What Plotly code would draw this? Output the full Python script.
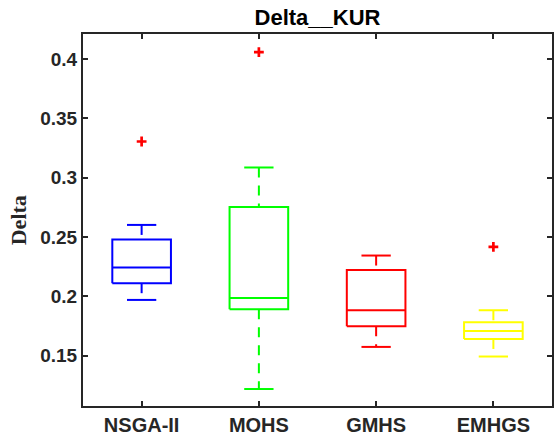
import plotly.graph_objects as go

methods = ["NSGA-II", "MOHS", "GMHS", "EMHGS"]
q1 = [0.2110, 0.1890, 0.1747, 0.1640]
med = [0.2242, 0.1986, 0.1882, 0.1708]
q3 = [0.2478, 0.2753, 0.2222, 0.1781]
lower = [0.1969, 0.1218, 0.1573, 0.1492]
upper = [0.2601, 0.3085, 0.2343, 0.1882]
outliers = [[0.3304], [0.4057], [], [0.2416]]
colors = ["#0000ff", "#00ff00", "#ff0000", "#ffff00"]

HALF = 0.25
CAP = 0.125
LW = 2

fig = go.Figure()
for i, m in enumerate(methods):
    x = i + 1
    c = colors[i]
    # box
    fig.add_trace(go.Scatter(
        x=[x - HALF, x + HALF, x + HALF, x - HALF, x - HALF],
        y=[q1[i], q1[i], q3[i], q3[i], q1[i]],
        mode="lines", line=dict(color=c, width=LW), hoverinfo="skip"))
    # median
    fig.add_trace(go.Scatter(
        x=[x - HALF, x + HALF], y=[med[i], med[i]],
        mode="lines", line=dict(color=c, width=LW), hoverinfo="skip"))
    # whiskers (dashed)
    fig.add_trace(go.Scatter(
        x=[x, x], y=[upper[i], q3[i]],
        mode="lines", line=dict(color=c, width=LW, dash="10px,8px"), hoverinfo="skip"))
    fig.add_trace(go.Scatter(
        x=[x, x], y=[q1[i], lower[i]],
        mode="lines", line=dict(color=c, width=LW, dash="10px,8px"), hoverinfo="skip"))
    # caps
    for v in (upper[i], lower[i]):
        fig.add_trace(go.Scatter(
            x=[x - CAP, x + CAP], y=[v, v],
            mode="lines", line=dict(color=c, width=LW), hoverinfo="skip"))
    # outliers
    if outliers[i]:
        fig.add_trace(go.Scatter(
            x=[x] * len(outliers[i]), y=outliers[i], mode="markers",
            marker=dict(symbol="cross-thin", size=7, color="#ff0000",
                        line=dict(color="#ff0000", width=2.7))))

axis_common = dict(
    showline=True, linecolor="#262626", linewidth=2, mirror="ticks",
    ticks="inside", ticklen=5, tickwidth=1.5, tickcolor="#262626",
    showgrid=False, zeroline=False,
)

fig.update_layout(
    width=555, height=444,
    margin=dict(l=83, r=1, t=34, b=38),
    paper_bgcolor="white", plot_bgcolor="white",
    showlegend=False,
    title=dict(text="Delta__KUR", x=0.5, xref="paper", xanchor="center",
               y=1 - 17.5 / 444, yref="container", yanchor="middle",
               font=dict(family="Liberation Sans", size=22, color="black", weight="bold")),
    xaxis=dict(range=[0.5, 4.5], tickvals=[1, 2, 3, 4], ticktext=methods,
               tickfont=dict(family="Liberation Sans", size=20, color="#262626", weight="bold"),
               **axis_common),
    yaxis=dict(range=[0.1075, 0.421], tickvals=[0.15, 0.2, 0.25, 0.3, 0.35, 0.4],
               ticktext=["0.15", "0.2", "0.25", "0.3", "0.35", "0.4"],
               tickfont=dict(family="Liberation Sans", size=19, color="#262626", weight="bold"),
               **axis_common),
    annotations=[dict(text="Delta", xref="paper", yref="paper", x=(18 - 83) / 471, y=0.5,
                      xanchor="center", yanchor="middle", textangle=-90, showarrow=False,
                      font=dict(family="Liberation Serif", size=22, color="#262626", weight="bold"))],
)

fig.write_html("out.html")
